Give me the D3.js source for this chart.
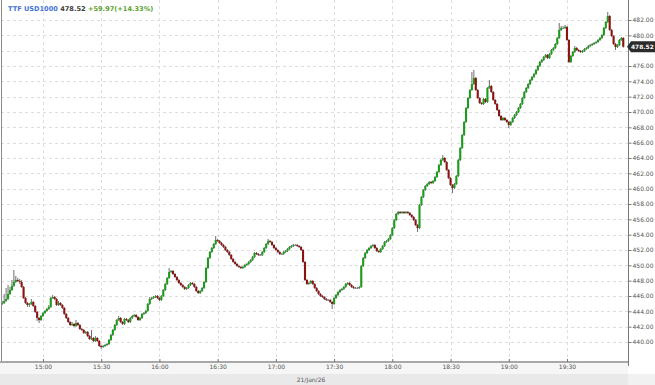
<!DOCTYPE html>
<html>
<head>
<meta charset="utf-8">
<script src="https://cdn.jsdelivr.net/npm/d3@7"></script>
<style>
  html, body { margin: 0; padding: 0; background: #fff; }
  svg { display: block; font-family: "DejaVu Sans", Verdana, sans-serif; }
</style>
</head>
<body>
<div id="chart"></div>
<script>
//----- DATA ---------------------------------------//
var SYMBOL = 'TTF USD1000';
var LAST_PRICE = 478.52;
var CHANGE = '+59.97(+14.33%)';
var SESSION_DATE = '21/Jan/26';
var FIRST_CANDLE = new Date(2026, 0, 21, 14, 39);   // one candle per minute
var FIRST_OPEN = 444.96;                              // later opens = previous close

var closes = [
445.09,445.35,445.61,446.26,446.78,447.31,447.83,448.09,447.96,447.83,
447.18,445.74,445.09,444.83,444.96,445.22,444.70,443.92,443.13,442.87,
443.39,443.79,444.05,444.31,444.57,445.74,445.87,445.61,444.83,445.09,
444.83,444.44,443.65,443.13,442.61,442.22,442.35,442.09,442.48,442.22,
441.70,441.57,441.18,441.31,440.78,440.39,440.52,440.13,440.52,440.13,
439.48,439.35,439.48,439.61,439.74,440.26,440.92,441.57,442.22,442.87,
443.13,442.61,442.35,443.00,442.87,442.61,443.13,443.39,443.52,443.26,
442.87,443.13,443.65,443.79,444.05,444.96,445.61,445.74,445.87,446.00,
445.74,445.48,446.00,446.78,447.57,448.35,449.13,449.26,448.87,448.48,
448.09,447.70,447.44,447.18,446.92,447.05,447.44,447.70,447.57,447.18,
446.65,446.39,446.65,447.05,447.83,449.65,450.96,451.74,452.26,452.79,
453.31,453.18,452.92,452.65,452.39,452.00,451.74,451.35,450.83,450.44,
450.18,449.92,449.79,449.65,449.79,450.05,450.18,450.44,450.70,451.09,
451.61,451.48,451.35,451.35,451.74,452.26,452.79,453.18,453.05,452.65,
452.26,452.00,451.74,451.48,451.48,451.74,451.87,452.13,452.39,452.52,
452.65,452.65,452.52,452.39,452.00,450.44,448.09,447.57,447.70,447.96,
447.57,447.05,446.65,446.26,446.00,445.87,445.61,445.48,445.48,445.22,
444.96,445.74,446.13,446.52,446.78,446.92,447.18,447.57,447.70,447.44,
447.18,447.05,447.05,447.05,447.18,449.92,450.96,451.61,452.00,452.26,
452.52,452.65,452.26,451.87,451.74,452.13,452.52,453.05,453.18,453.44,
453.96,454.87,455.91,456.70,456.96,456.83,456.96,456.83,456.96,456.83,
456.57,456.31,455.91,455.26,454.87,457.87,458.91,459.83,460.35,460.61,
460.87,460.74,461.00,461.52,462.18,463.09,463.74,464.00,463.48,462.44,
461.39,460.48,460.09,460.61,461.65,463.74,465.31,467.00,468.70,470.52,
471.83,472.87,473.65,474.44,472.87,471.83,471.18,471.05,471.70,471.31,
473.13,473.39,472.61,471.57,471.05,470.26,469.48,468.96,469.22,468.96,
468.70,468.31,468.70,469.22,469.61,470.00,470.52,471.05,471.83,472.61,
473.13,473.65,474.18,474.57,474.96,475.48,476.00,476.52,476.78,477.18,
477.44,477.05,477.57,478.09,478.35,478.87,479.65,480.70,480.96,480.96,
481.09,479.39,476.52,477.31,477.83,478.35,478.09,477.96,477.83,477.96,
478.22,478.35,478.61,478.74,478.87,479.00,479.13,479.39,479.65,480.04,
480.96,481.74,482.52,480.70,479.91,478.87,478.48,478.74,479.39,479.65,
478.52
];

var highs = [
445.35,446.26,447.05,447.44,447.18,448.09,449.39,448.61,448.35,448.22,
448.09,447.31,445.87,445.22,445.09,445.61,445.35,444.83,444.05,443.26,
443.52,443.92,444.18,444.44,444.83,445.87,446.13,446.00,445.74,445.35,
445.22,444.96,444.57,443.79,443.26,442.74,442.61,442.48,442.87,442.61,
442.35,441.83,441.70,441.44,441.44,440.92,441.57,440.65,440.78,440.65,
440.26,439.61,439.61,439.74,439.87,440.39,441.05,441.70,442.35,443.00,
443.39,443.26,442.74,443.13,443.13,443.00,443.26,443.52,443.65,443.65,
443.39,443.26,443.79,443.92,444.18,445.09,445.87,445.87,446.00,446.13,
446.13,445.87,446.13,446.92,447.70,448.48,449.65,449.39,449.39,449.00,
448.61,448.22,447.83,447.57,447.31,447.18,447.57,447.83,447.83,447.70,
447.31,446.78,446.78,447.18,447.96,449.79,451.09,451.87,452.39,452.92,
453.83,453.44,453.31,453.05,452.79,452.52,452.13,451.87,451.48,450.96,
450.57,450.31,450.05,449.92,449.92,450.18,450.31,450.57,450.83,451.22,
451.74,451.74,451.61,451.48,451.87,452.39,452.92,453.44,453.31,453.18,
452.79,452.39,452.13,451.87,451.61,451.87,452.00,452.26,452.52,452.65,
452.79,452.79,452.79,452.65,452.52,452.13,450.57,448.22,447.83,448.09,
448.09,447.70,447.18,446.78,446.39,446.13,446.00,445.74,445.61,445.61,
445.35,445.87,446.26,446.65,446.92,447.05,447.31,447.70,447.83,447.83,
447.57,447.31,447.18,447.18,447.31,450.05,451.09,451.74,452.13,452.39,
452.65,452.79,452.79,452.39,452.00,452.26,452.65,453.18,453.31,453.57,
454.09,455.00,456.05,456.83,457.09,457.09,457.09,457.09,457.09,457.09,
456.96,456.70,456.44,456.05,455.39,458.00,459.05,459.96,460.48,460.74,
461.00,461.00,461.13,461.65,462.31,463.22,463.87,464.39,464.13,463.61,
462.57,461.52,460.61,460.74,461.78,463.87,465.44,467.13,468.83,470.65,
471.96,473.00,475.22,475.48,474.57,473.00,471.96,471.31,471.83,471.83,
473.26,474.18,473.52,472.74,471.70,471.18,470.39,469.61,469.35,469.35,
469.09,468.83,468.83,469.35,469.74,470.13,470.65,471.18,471.96,472.74,
473.26,473.78,474.31,474.70,475.09,475.61,476.13,476.65,476.91,477.31,
477.57,477.57,477.70,478.22,478.48,479.00,479.78,481.61,481.22,481.22,
481.35,481.22,479.52,477.44,477.96,478.61,478.48,478.22,478.09,478.09,
478.35,478.48,478.74,478.87,479.00,479.13,479.26,479.52,479.78,480.17,
481.09,481.87,483.04,482.65,480.83,480.04,479.00,478.87,479.52,479.78,
479.78
];

var lows = [
444.83,444.96,445.22,445.48,446.13,446.65,447.18,447.70,447.83,447.57,
447.05,445.61,444.96,444.57,444.57,444.83,444.57,443.79,442.74,442.48,
442.74,443.26,443.65,443.92,444.18,444.44,445.61,445.48,444.70,444.70,
444.70,444.31,443.52,443.00,442.48,442.09,442.09,441.96,441.96,442.09,
441.57,441.44,441.05,441.05,440.65,440.26,440.26,440.00,440.00,440.00,
439.35,439.09,439.22,439.35,439.48,439.61,440.13,440.78,441.44,442.09,
442.74,442.48,442.22,442.22,442.74,442.48,442.48,443.00,443.26,443.13,
442.74,442.74,443.00,443.52,443.65,443.92,444.83,445.48,445.61,445.74,
445.61,445.35,445.35,445.87,446.65,447.44,448.22,449.00,448.74,448.35,
447.96,447.57,447.31,447.05,446.78,446.78,446.92,447.31,447.44,447.05,
446.52,446.26,446.26,446.52,446.92,447.70,449.52,450.83,451.61,452.13,
452.65,453.05,452.79,452.52,452.26,451.87,451.61,451.22,450.70,450.31,
450.05,449.79,449.65,449.52,449.52,449.65,449.92,450.05,450.31,450.57,
450.96,451.35,451.22,451.22,451.22,451.61,452.13,452.65,452.92,452.52,
452.13,451.87,451.61,451.35,451.35,451.35,451.61,451.74,452.00,452.26,
452.39,452.52,452.39,452.26,451.87,450.31,447.96,447.44,447.44,447.57,
447.44,446.92,446.52,446.13,445.87,445.74,445.48,445.35,445.35,445.09,
444.31,444.83,445.61,446.00,446.39,446.65,446.78,447.05,447.44,447.31,
447.05,446.92,446.92,446.92,446.92,447.05,449.79,450.83,451.48,451.87,
452.13,452.39,452.13,451.74,451.61,451.61,452.00,452.39,452.92,453.05,
453.31,453.83,454.74,455.78,456.57,456.70,456.70,456.70,456.70,456.70,
456.44,456.18,455.78,455.13,454.35,454.74,457.74,458.78,459.70,460.22,
460.48,460.61,460.61,460.87,461.39,462.05,462.96,463.61,463.35,462.31,
461.26,460.35,459.44,459.96,460.48,461.52,463.61,465.18,466.87,468.57,
470.39,471.70,472.74,473.52,472.74,471.70,471.05,470.92,470.92,471.18,
471.18,473.00,472.48,471.44,470.92,470.13,469.35,468.83,468.83,468.83,
468.57,467.91,468.18,468.57,469.09,469.48,469.87,470.39,470.92,471.70,
472.48,473.00,473.52,474.05,474.44,474.83,475.35,475.87,476.39,476.65,
477.05,476.91,476.91,477.44,477.96,478.22,478.74,479.52,480.57,480.83,
480.83,479.26,476.39,476.39,477.18,477.70,477.96,477.83,477.70,477.70,
477.83,478.09,478.22,478.48,478.61,478.74,478.87,479.00,479.26,479.52,
479.91,480.83,481.61,480.57,479.78,478.74,478.09,478.35,478.61,479.26,
478.39
];

var priceTicks = [440, 442, 444, 446, 448, 450, 452, 454, 456, 458, 460,
                  462, 464, 466, 468, 470, 472, 474, 476, 478, 480, 482];

//----- SETTINGS -----------------------------------//
var WIDTH = 655,
    HEIGHT = 385,
    PLOT_LEFT = 1,
    PLOT_RIGHT = 628,
    PLOT_TOP = 0,
    PLOT_BOTTOM = 362,
    VIEW_START = new Date(2026, 0, 21, 14, 38, 22),
    VIEW_END = new Date(2026, 0, 21, 20, 1, 26),
    LAST_TICK = new Date(2026, 0, 21, 19, 30),
    BODY_WIDTH = 2.1,
    UP_COLOR = '#1c9c1c',
    DOWN_COLOR = '#8e1212',
    FLAT_COLOR = '#8a8a8a',
    WICK_COLOR = '#6e6e6e',
    GRID_COLOR = '#dedede',
    TEXT_COLOR = '#555';

//----- BUILD CANDLES ------------------------------//
var candles = closes.map(function (c, i) {
    return {
        time: d3.timeMinute.offset(FIRST_CANDLE, i),
        open: i ? closes[i - 1] : FIRST_OPEN,
        high: highs[i],
        low: lows[i],
        close: c
    };
});

//----- SCALES -------------------------------------//
var x = d3.scaleTime()
    .domain([VIEW_START, VIEW_END])
    .range([PLOT_LEFT, PLOT_RIGHT]);

var y = d3.scaleLinear()
    .domain([440, 482])
    .range([342, 20]);

var timeTicks = d3.timeMinute.every(30).range(VIEW_START, d3.timeMinute.offset(LAST_TICK, 1));

//----- SVG ----------------------------------------//
var svg = d3.select('#chart')
    .append('svg')
        .attr('width', WIDTH)
        .attr('height', HEIGHT);

svg.append('rect')
    .attr('width', WIDTH).attr('height', HEIGHT)
    .attr('fill', '#fff');

// x label strip and date strip
svg.append('rect')
    .attr('x', 0).attr('y', PLOT_BOTTOM)
    .attr('width', PLOT_RIGHT).attr('height', 12)
    .attr('fill', '#f6f6f6');
svg.append('rect')
    .attr('x', 0).attr('y', 374)
    .attr('width', PLOT_RIGHT).attr('height', HEIGHT - 374)
    .attr('fill', '#e9e9e9');
svg.append('rect')
    .attr('x', PLOT_RIGHT).attr('y', 374)
    .attr('width', WIDTH - PLOT_RIGHT).attr('height', HEIGHT - 374)
    .attr('fill', '#f1f1f1');

//----- GRID ---------------------------------------//
svg.append('g')
    .selectAll('line')
    .data(priceTicks).enter()
    .append('line')
        .attr('x1', PLOT_LEFT).attr('x2', PLOT_RIGHT)
        .attr('y1', function (d) { return Math.round(y(d)) + 0.5; })
        .attr('y2', function (d) { return Math.round(y(d)) + 0.5; })
        .attr('stroke', GRID_COLOR)
        .attr('stroke-dasharray', '3,3');

svg.append('g')
    .selectAll('line')
    .data(timeTicks).enter()
    .append('line')
        .attr('x1', function (d) { return Math.round(x(d)) + 0.5; })
        .attr('x2', function (d) { return Math.round(x(d)) + 0.5; })
        .attr('y1', PLOT_TOP).attr('y2', PLOT_BOTTOM)
        .attr('stroke', GRID_COLOR)
        .attr('stroke-dasharray', '3,3');

//----- CANDLES ------------------------------------//
svg.append('clipPath').attr('id', 'plot-clip')
    .append('rect')
        .attr('x', PLOT_LEFT).attr('y', PLOT_TOP)
        .attr('width', PLOT_RIGHT - PLOT_LEFT)
        .attr('height', PLOT_BOTTOM - PLOT_TOP);

var candle = svg.append('g')
    .attr('clip-path', 'url(#plot-clip)')
    .selectAll('g')
    .data(candles).enter()
    .append('g');

candle.append('line')
    .attr('x1', function (d) { return x(d.time); })
    .attr('x2', function (d) { return x(d.time); })
    .attr('y1', function (d) { return y(d.high); })
    .attr('y2', function (d) { return y(d.low); })
    .attr('stroke', WICK_COLOR)
    .attr('stroke-width', 1);

candle.append('rect')
    .attr('x', function (d) { return x(d.time) - BODY_WIDTH / 2; })
    .attr('y', function (d) { return y(Math.max(d.open, d.close)); })
    .attr('width', BODY_WIDTH)
    .attr('height', function (d) {
        return Math.max(1, Math.abs(y(d.open) - y(d.close)));
    })
    .attr('fill', getCandleColor);

function getCandleColor(d) {
    if (d.close > d.open) return UP_COLOR;
    if (d.close < d.open) return DOWN_COLOR;
    return FLAT_COLOR;
}

//----- FRAME --------------------------------------//
svg.append('line')
    .attr('x1', PLOT_LEFT + 0.5).attr('x2', PLOT_LEFT + 0.5)
    .attr('y1', PLOT_TOP).attr('y2', PLOT_BOTTOM)
    .attr('stroke', '#8a8a8a');

svg.append('line')
    .attr('x1', 0).attr('x2', PLOT_RIGHT)
    .attr('y1', PLOT_BOTTOM).attr('y2', PLOT_BOTTOM)
    .attr('stroke', '#a8a8a8')
    .attr('stroke-width', 2);

svg.append('line')
    .attr('x1', PLOT_RIGHT + 0.5).attr('x2', PLOT_RIGHT + 0.5)
    .attr('y1', PLOT_TOP).attr('y2', PLOT_BOTTOM + 4)
    .attr('stroke', '#777');

//----- AXES ---------------------------------------//
var flagY = y(LAST_PRICE);

// labels hidden behind the last price flag are not drawn
var visiblePriceTicks = priceTicks.filter(function (d) {
    return Math.abs(y(d) - flagY) > 7;
});

var yAxis = svg.append('g')
    .attr('transform', 'translate(' + (PLOT_RIGHT + 0.5) + ',0)')
    .call(d3.axisRight(y)
        .tickValues(visiblePriceTicks)
        .tickFormat(d3.format('.2f'))
        .tickSizeInner(3)
        .tickSizeOuter(0)
        .tickPadding(1));

var xAxis = svg.append('g')
    .attr('transform', 'translate(0,' + PLOT_BOTTOM + ')')
    .call(d3.axisBottom(x)
        .tickValues(timeTicks)
        .tickFormat(d3.timeFormat('%H:%M'))
        .tickSizeInner(-3)
        .tickSizeOuter(0)
        .tickPadding(3));

[yAxis, xAxis].forEach(function (axis) {
    axis.attr('font-family', null)
        .attr('font-size', 6)
        .style('color', TEXT_COLOR);
    axis.select('.domain').remove();
    axis.selectAll('.tick line').attr('stroke', '#777');
});

//----- LABELS -------------------------------------//
svg.append('text')
    .attr('x', 311).attr('y', 381.5)
    .attr('text-anchor', 'middle')
    .attr('font-size', 6)
    .attr('fill', TEXT_COLOR)
    .text(SESSION_DATE);

// last price flag
svg.append('path')
    .attr('d', 'M' + (PLOT_RIGHT - 1) + ',' + flagY +
               'L' + (PLOT_RIGHT + 3) + ',' + (flagY - 5.5) +
               'L' + WIDTH + ',' + (flagY - 5.5) +
               'L' + WIDTH + ',' + (flagY + 5.5) +
               'L' + (PLOT_RIGHT + 3) + ',' + (flagY + 5.5) + 'Z')
    .attr('fill', '#2b2b2b');
svg.append('text')
    .attr('x', PLOT_RIGHT + 3).attr('y', flagY)
    .attr('dy', '0.35em')
    .attr('font-size', 5.9)
    .attr('font-weight', 'bold')
    .attr('fill', '#fff')
    .text(d3.format('.2f')(LAST_PRICE));

// title
var title = svg.append('text')
    .attr('x', 8).attr('y', 10.5)
    .attr('font-size', 6.6)
    .attr('font-weight', 'bold');
title.append('tspan').attr('fill', '#3f73d6').text(SYMBOL + ' ');
title.append('tspan').attr('fill', '#3a3a3a').text(d3.format('.2f')(LAST_PRICE) + ' ');
title.append('tspan').attr('fill', '#5ba22f').text(CHANGE);
</script>
</body>
</html>
